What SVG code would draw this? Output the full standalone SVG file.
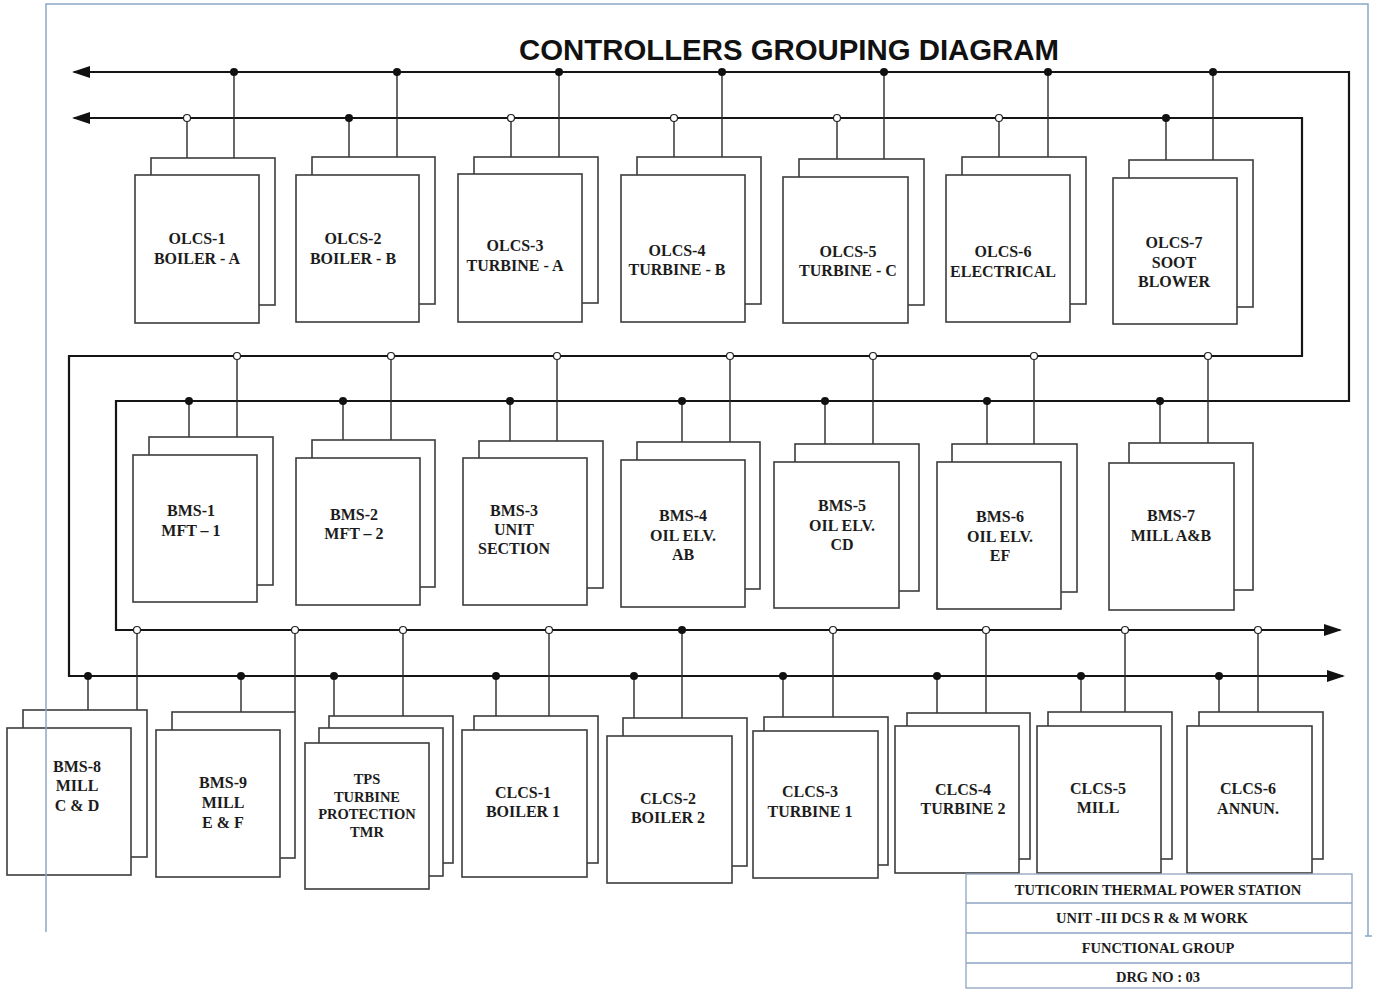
<svg xmlns="http://www.w3.org/2000/svg" width="1375" height="992" viewBox="0 0 1375 992">
<style>
.bus{fill:none;stroke:#151515;stroke-width:2.2;stroke-linejoin:miter}
.stub{fill:none;stroke:#2a2a2a;stroke-width:1.4}
.box{fill:#fff;stroke:#3c3c3c;stroke-width:1.6}
.lbl{font-family:"Liberation Serif","Times New Roman",serif;font-weight:bold;font-size:16px;fill:#1c1c1c;text-anchor:middle}
.sm{font-size:14.5px}
.dot{fill:#111}
.ring{fill:#fff;stroke:#222;stroke-width:1.2}
.border{fill:none;stroke:#8aa6c8;stroke-width:1.5}
.tb{fill:#fff;stroke:#8fa4c2;stroke-width:1.3}
.tbt{font-family:"Liberation Serif","Times New Roman",serif;font-weight:bold;font-size:14.5px;fill:#1c1c1c;text-anchor:middle}
.title{font-family:"Liberation Sans",Arial,sans-serif;font-weight:bold;font-size:29px;fill:#111}
</style>
<defs>
<marker id="arr" viewBox="0 0 18 12" refX="16" refY="6" markerWidth="18" markerHeight="12" markerUnits="userSpaceOnUse" orient="auto-start-reverse">
<path d="M0,0 L18,6 L0,12 z" fill="#111"/>
</marker>
</defs>

<text class="title" x="519" y="60" textLength="540" lengthAdjust="spacingAndGlyphs">CONTROLLERS GROUPING DIAGRAM</text>

<g id="connectors">
<!-- Bus A -->
<path class="bus" d="M1340,630 L116,630 L116,401 L1349,401 L1349,72 L74,72" marker-start="url(#arr)" marker-end="url(#arr)"/>
<!-- Bus B -->
<path class="bus" d="M1343,676 L69,676 L69,356 L1302,356 L1302,118 L74,118" marker-start="url(#arr)" marker-end="url(#arr)"/>
<!-- top row stubs -->
<path class="stub" d="M234,72V158 M187,118V158 M397,72V157 M349,118V157 M559,72V157 M511,118V157 M722,72V157 M674,118V157 M884,72V159 M837,118V159 M1048,72V157 M999,118V157 M1213,72V160 M1166,118V160"/>
<!-- middle row stubs -->
<path class="stub" d="M189,401V437 M237,356V437 M343,401V440 M391,356V440 M510,401V441 M557,356V441 M682,401V442 M730,356V442 M825,401V444 M873,356V444 M987,401V444 M1034,356V444 M1160,401V443 M1208,356V443"/>
<!-- bottom row stubs -->
<path class="stub" d="M88,676V710 M137,630V710 M241,676V712 M295,630V712 M334,676V716 M403,630V716 M496,676V716 M549,630V716 M634,676V718 M682,630V718 M783,676V717 M833,630V717 M937,676V713 M986,630V713 M1081,676V712 M1125,630V712 M1219,676V712 M1258,630V712"/>
<!-- junctions: filled -->
<g class="dot">
<circle cx="234" cy="72" r="4"/><circle cx="397" cy="72" r="4"/><circle cx="559" cy="72" r="4"/><circle cx="722" cy="72" r="4"/><circle cx="884" cy="72" r="4"/><circle cx="1048" cy="72" r="4"/><circle cx="1213" cy="72" r="4"/>
<circle cx="349" cy="118" r="4"/><circle cx="1166" cy="118" r="4"/>
<circle cx="189" cy="401" r="4"/><circle cx="343" cy="401" r="4"/><circle cx="510" cy="401" r="4"/><circle cx="682" cy="401" r="4"/><circle cx="825" cy="401" r="4"/><circle cx="987" cy="401" r="4"/><circle cx="1160" cy="401" r="4"/>
<circle cx="88" cy="676" r="4"/><circle cx="241" cy="676" r="4"/><circle cx="334" cy="676" r="4"/><circle cx="496" cy="676" r="4"/><circle cx="634" cy="676" r="4"/><circle cx="783" cy="676" r="4"/><circle cx="937" cy="676" r="4"/><circle cx="1081" cy="676" r="4"/><circle cx="1219" cy="676" r="4"/>
<circle cx="682" cy="630" r="4"/>
</g>
<!-- junctions: open -->
<g class="ring">
<circle cx="187" cy="118" r="3.5"/><circle cx="511" cy="118" r="3.5"/><circle cx="674" cy="118" r="3.5"/><circle cx="837" cy="118" r="3.5"/><circle cx="999" cy="118" r="3.5"/>
<circle cx="237" cy="356" r="3.5"/><circle cx="391" cy="356" r="3.5"/><circle cx="557" cy="356" r="3.5"/><circle cx="730" cy="356" r="3.5"/><circle cx="873" cy="356" r="3.5"/><circle cx="1034" cy="356" r="3.5"/><circle cx="1208" cy="356" r="3.5"/>
<circle cx="137" cy="630" r="3.5"/><circle cx="295" cy="630" r="3.5"/><circle cx="403" cy="630" r="3.5"/><circle cx="549" cy="630" r="3.5"/><circle cx="833" cy="630" r="3.5"/><circle cx="986" cy="630" r="3.5"/><circle cx="1125" cy="630" r="3.5"/><circle cx="1258" cy="630" r="3.5"/>
</g>
</g>

<!-- Top row -->
<g id="olcs1"><rect class="box" x="151" y="158" width="124" height="147"/><rect class="box" x="135" y="175" width="124" height="148"/>
<text class="lbl"><tspan x="197" y="244">OLCS-1</tspan><tspan x="197" y="264">BOILER - A</tspan></text></g>
<g id="olcs2"><rect class="box" x="312" y="157" width="123" height="147"/><rect class="box" x="296" y="175" width="123" height="147"/>
<text class="lbl"><tspan x="353" y="244">OLCS-2</tspan><tspan x="353" y="264">BOILER - B</tspan></text></g>
<g id="olcs3"><rect class="box" x="474" y="157" width="124" height="146"/><rect class="box" x="458" y="174" width="124" height="148"/>
<text class="lbl"><tspan x="515" y="251">OLCS-3</tspan><tspan x="515" y="271">TURBINE - A</tspan></text></g>
<g id="olcs4"><rect class="box" x="637" y="157" width="124" height="147"/><rect class="box" x="621" y="175" width="124" height="147"/>
<text class="lbl"><tspan x="677" y="256">OLCS-4</tspan><tspan x="677" y="275">TURBINE - B</tspan></text></g>
<g id="olcs5"><rect class="box" x="799" y="159" width="125" height="146"/><rect class="box" x="783" y="177" width="125" height="146"/>
<text class="lbl"><tspan x="848" y="257">OLCS-5</tspan><tspan x="848" y="276">TURBINE - C</tspan></text></g>
<g id="olcs6"><rect class="box" x="962" y="157" width="124" height="147"/><rect class="box" x="946" y="175" width="124" height="147"/>
<text class="lbl"><tspan x="1003" y="257">OLCS-6</tspan><tspan x="1003" y="277">ELECTRICAL</tspan></text></g>
<g id="olcs7"><rect class="box" x="1129" y="160" width="124" height="147"/><rect class="box" x="1113" y="178" width="124" height="146"/>
<text class="lbl"><tspan x="1174" y="248">OLCS-7</tspan><tspan x="1174" y="268">SOOT</tspan><tspan x="1174" y="287">BLOWER</tspan></text></g>

<!-- Middle row -->
<g id="bms1"><rect class="box" x="149" y="437" width="124" height="148"/><rect class="box" x="133" y="455" width="124" height="147"/>
<text class="lbl"><tspan x="191" y="516">BMS-1</tspan><tspan x="191" y="536">MFT – 1</tspan></text></g>
<g id="bms2"><rect class="box" x="312" y="440" width="123" height="147"/><rect class="box" x="296" y="458" width="124" height="147"/>
<text class="lbl"><tspan x="354" y="520">BMS-2</tspan><tspan x="354" y="539">MFT – 2</tspan></text></g>
<g id="bms3"><rect class="box" x="479" y="441" width="124" height="147"/><rect class="box" x="463" y="458" width="124" height="147"/>
<text class="lbl"><tspan x="514" y="516">BMS-3</tspan><tspan x="514" y="535">UNIT</tspan><tspan x="514" y="554">SECTION</tspan></text></g>
<g id="bms4"><rect class="box" x="637" y="442" width="123" height="147"/><rect class="box" x="621" y="460" width="124" height="147"/>
<text class="lbl"><tspan x="683" y="521">BMS-4</tspan><tspan x="683" y="541">OIL ELV.</tspan><tspan x="683" y="560">AB</tspan></text></g>
<g id="bms5"><rect class="box" x="795" y="444" width="124" height="147"/><rect class="box" x="774" y="462" width="125" height="146"/>
<text class="lbl"><tspan x="842" y="511">BMS-5</tspan><tspan x="842" y="531">OIL ELV.</tspan><tspan x="842" y="550">CD</tspan></text></g>
<g id="bms6"><rect class="box" x="952" y="444" width="125" height="148"/><rect class="box" x="937" y="462" width="124" height="147"/>
<text class="lbl"><tspan x="1000" y="522">BMS-6</tspan><tspan x="1000" y="542">OIL ELV.</tspan><tspan x="1000" y="561">EF</tspan></text></g>
<g id="bms7"><rect class="box" x="1129" y="443" width="124" height="147"/><rect class="box" x="1109" y="463" width="125" height="147"/>
<text class="lbl"><tspan x="1171" y="521">BMS-7</tspan><tspan x="1171" y="541">MILL A&amp;B</tspan></text></g>

<!-- Bottom row -->
<g id="bms8"><rect class="box" x="23" y="710" width="124" height="147"/><rect class="box" x="7" y="728" width="124" height="147"/>
<text class="lbl"><tspan x="77" y="772">BMS-8</tspan><tspan x="77" y="791">MILL</tspan><tspan x="77" y="811">C &amp; D</tspan></text></g>
<g id="bms9"><rect class="box" x="172" y="712" width="123" height="146"/><rect class="box" x="156" y="730" width="124" height="147"/>
<text class="lbl"><tspan x="223" y="788">BMS-9</tspan><tspan x="223" y="808">MILL</tspan><tspan x="223" y="828">E &amp; F</tspan></text></g>
<g id="tps"><rect class="box" x="329" y="716" width="124" height="147"/><rect class="box" x="319" y="728" width="124" height="148"/><rect class="box" x="305" y="743" width="124" height="146"/>
<text class="lbl sm"><tspan x="367" y="784">TPS</tspan><tspan x="367" y="802">TURBINE</tspan><tspan x="367" y="819">PROTECTION</tspan><tspan x="367" y="837">TMR</tspan></text></g>
<g id="clcs1"><rect class="box" x="474" y="716" width="124" height="147"/><rect class="box" x="462" y="730" width="125" height="147"/>
<text class="lbl"><tspan x="523" y="798">CLCS-1</tspan><tspan x="523" y="817">BOILER 1</tspan></text></g>
<g id="clcs2"><rect class="box" x="623" y="718" width="124" height="148"/><rect class="box" x="607" y="736" width="125" height="147"/>
<text class="lbl"><tspan x="668" y="804">CLCS-2</tspan><tspan x="668" y="823">BOILER 2</tspan></text></g>
<g id="clcs3"><rect class="box" x="764" y="717" width="124" height="148"/><rect class="box" x="753" y="731" width="125" height="147"/>
<text class="lbl"><tspan x="810" y="797">CLCS-3</tspan><tspan x="810" y="817">TURBINE 1</tspan></text></g>
<g id="clcs4"><rect class="box" x="907" y="713" width="123" height="146"/><rect class="box" x="895" y="726" width="124" height="147"/>
<text class="lbl"><tspan x="963" y="795">CLCS-4</tspan><tspan x="963" y="814">TURBINE 2</tspan></text></g>
<g id="clcs5"><rect class="box" x="1048" y="712" width="124" height="147"/><rect class="box" x="1037" y="726" width="124" height="147"/>
<text class="lbl"><tspan x="1098" y="794">CLCS-5</tspan><tspan x="1098" y="813">MILL</tspan></text></g>
<g id="clcs6"><rect class="box" x="1199" y="712" width="124" height="147"/><rect class="box" x="1187" y="726" width="125" height="147"/>
<text class="lbl"><tspan x="1248" y="794">CLCS-6</tspan><tspan x="1248" y="814">ANNUN.</tspan></text></g>

<!-- Title block -->
<g id="titleblock">
<rect class="tb" x="966" y="874" width="386" height="114"/>
<path class="tb" d="M966,903H1352 M966,933H1352 M966,963H1352"/>
<text class="tbt" x="1158" y="895">TUTICORIN THERMAL POWER STATION</text>
<text class="tbt" x="1152" y="923">UNIT -III DCS R &amp; M WORK</text>
<text class="tbt" x="1158" y="953">FUNCTIONAL GROUP</text>
<text class="tbt" x="1158" y="982">DRG NO : 03</text>
</g>

<!-- Page border -->
<path class="border" d="M46,932 V4 H1368 V936 M1365,936 H1372"/>
</svg>
